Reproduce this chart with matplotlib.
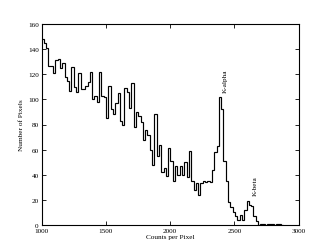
import matplotlib
matplotlib.use('Agg')
import matplotlib.pyplot as plt
import numpy as np

# histogram counts, bins spanning 1000..2880
counts = [148, 145, 141, 127, 127, 121, 131, 132, 125, 129,
          118, 115, 107, 126, 110, 106, 121, 108, 108, 111,
          114, 122, 100, 103, 98, 122, 103, 102, 85, 111,
          92, 88, 97, 105, 83, 80, 109, 106, 93, 113,
          78, 90, 87, 82, 68, 76, 72, 60, 48, 88,
          55, 64, 42, 45, 39, 61, 51, 35, 47, 40,
          47, 40, 50, 38, 59, 35, 28, 33, 24, 33,
          35, 34, 35, 34, 44, 58, 63, 102, 92, 51,
          35, 18, 14, 10, 7, 4, 8, 4, 12, 19,
          16, 15, 7, 3, 0, 1, 1, 0, 1, 1,
          1, 0, 1, 1, 0]
x_start, x_end = 1000, 2880

labels = ['K-alpha', 'K-beta']
label_x = [2427, 2659]
label_y = [106, 24]

plt.rcParams['font.family'] = 'Liberation Serif'
plt.rcParams['font.size'] = 5.2

fig = plt.figure(figsize=(3.32, 2.51), dpi=100)
ax = fig.add_axes([0.125, 0.1, 0.775, 0.8])

edges = np.linspace(x_start, x_end, len(counts) + 1)
ax.stairs(counts, edges, baseline=None, color='black', linewidth=0.85)

for t, x, y in zip(labels, label_x, label_y):
    ax.text(x, y, t, rotation=90, ha='center', va='bottom', fontsize=5.2)

ax.set_xlim(1000, 3000)
ax.set_ylim(0, 160)
ax.set_xticks(np.arange(1000, 3001, 500))
ax.set_yticks(np.arange(0, 161, 20))
ax.tick_params(direction='in', top=True, right=True, length=3, width=0.6, pad=2)
for s in ax.spines.values():
    s.set_linewidth(0.8)

ax.set_xlabel('Counts per Pixel', labelpad=1)
ax.set_ylabel('Number of Pixels', labelpad=3)

fig.savefig('out.png', dpi=100, facecolor='white')
